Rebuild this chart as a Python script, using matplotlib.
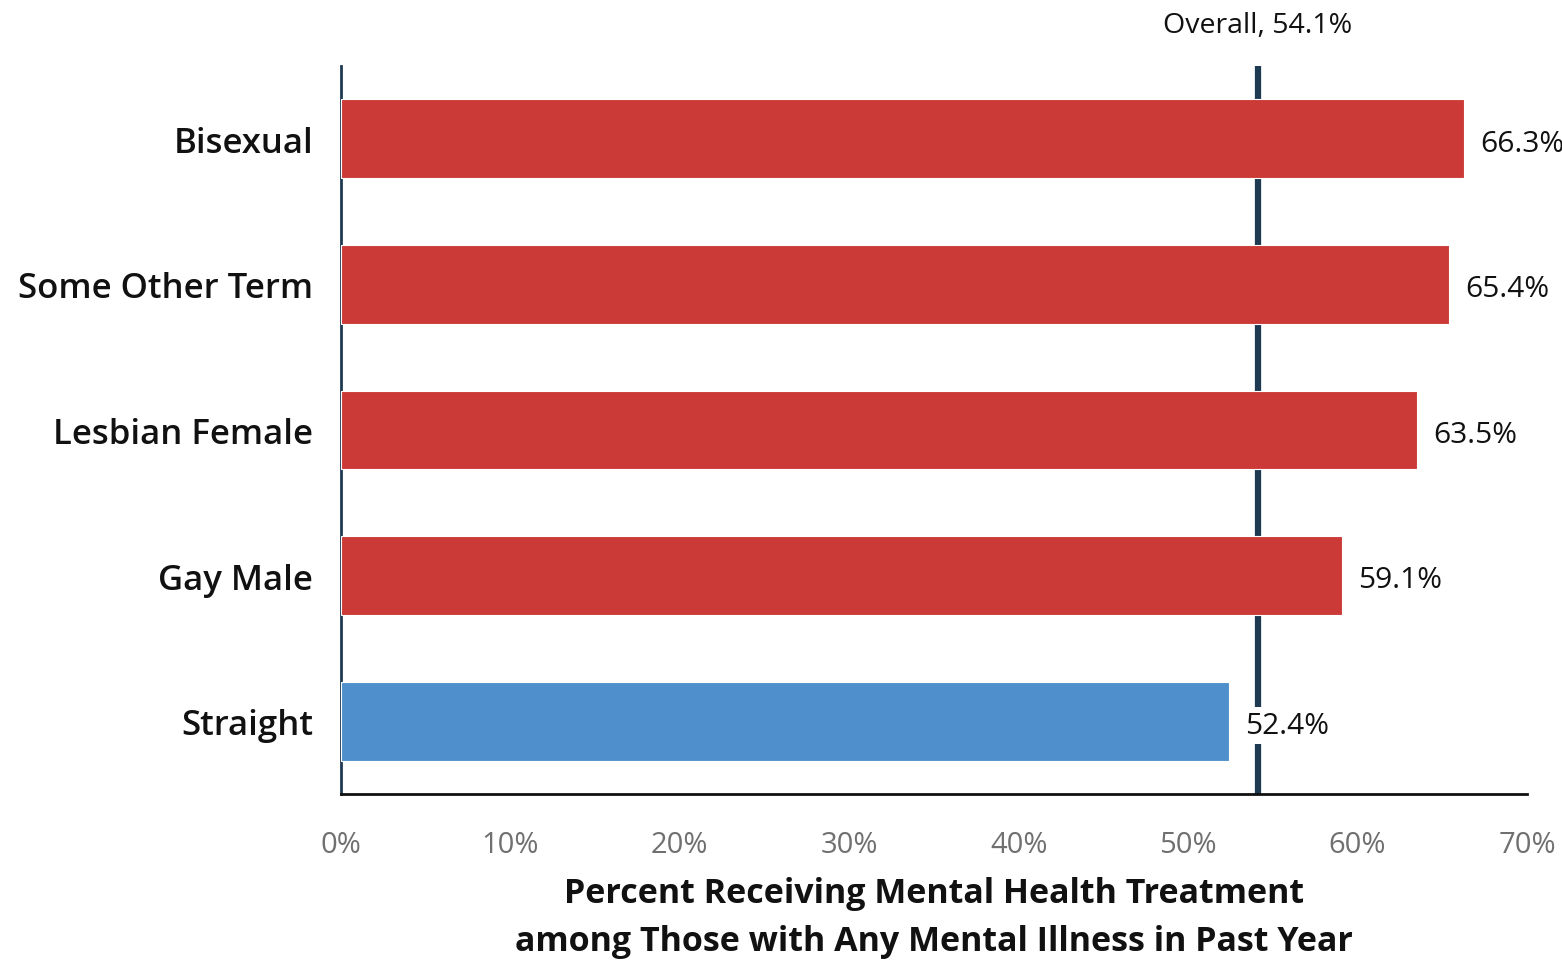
import matplotlib.pyplot as plt
from matplotlib.ticker import FuncFormatter

# Mental health treatment among adults with any mental illness, by sexual identity
groups = ["Bisexual", "Some Other Term", "Lesbian Female", "Gay Male", "Straight"]
pct = [66.3, 65.4, 63.5, 59.1, 52.4]
bar_colors = ["#CC3A37", "#CC3A37", "#CC3A37", "#CC3A37", "#4F90CC"]
overall = 54.1
xticks = [0, 10, 20, 30, 40, 50, 60, 70]

plt.rcParams["font.family"] = ["Open Sans", "DejaVu Sans"]

fig = plt.figure(figsize=(15.62, 9.62), dpi=100)
ax = fig.add_axes([0.2183, 0.1736, 0.7593, 0.7568])

y = list(range(len(groups)))
ax.barh(y, pct, height=0.54, color=bar_colors, edgecolor="white",
        linewidth=0.8, zorder=3)

# overall reference line sits behind the bars
ax.axvline(overall, color="#1E3A52", linewidth=4.5, zorder=2)
ax.text(overall, 1.037, f"Overall, {overall}%", transform=ax.get_xaxis_transform(),
        ha="center", va="bottom", fontsize=20.5, color="#111111")

for yi, v in zip(y, pct):
    ax.text(v + 0.95, yi + 0.03, f"{v}%", ha="left", va="center", fontsize=21.5,
            color="#111111", zorder=4,
            bbox=dict(boxstyle="square,pad=0.12", facecolor="white", edgecolor="none"))

ax.set_xlim(0, 70)
ax.set_ylim(4.5, -0.5)
ax.set_xticks(xticks)
ax.xaxis.set_major_formatter(FuncFormatter(lambda v, _: f"{v:.0f}%"))
ax.set_yticks(y)
ax.set_yticklabels(groups, fontsize=25, color="#111111", fontweight="semibold")
ax.tick_params(axis="x", length=0, pad=26, labelsize=21, labelcolor="#707070")
ax.tick_params(axis="y", length=0, pad=20)

ax.set_xlabel("Percent Receiving Mental Health Treatment\namong Those with Any Mental Illness in Past Year",
              fontsize=24.5, fontweight="bold", color="#111111", labelpad=12,
              linespacing=1.55)

for side in ("top", "right"):
    ax.spines[side].set_visible(False)
ax.spines["left"].set_color("#1E3A52")
ax.spines["left"].set_linewidth(2)
ax.spines["bottom"].set_color("#111111")
ax.spines["bottom"].set_linewidth(2)

fig.savefig("out.png", dpi=100, facecolor="white")
